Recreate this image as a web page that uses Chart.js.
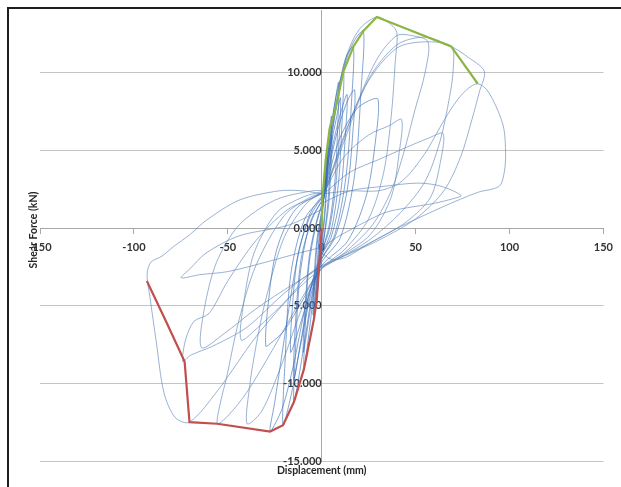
<!DOCTYPE html>
<html>
<head>
<meta charset="utf-8">
<script src="https://cdn.jsdelivr.net/npm/chart.js@4.4.1/dist/chart.umd.min.js"></script>
<style>
  html, body { margin: 0; padding: 0; background: #fff; }
  #wrap { position: relative; width: 621px; height: 487px; overflow: hidden; }
  #frame { position: absolute; left: 7px; top: 7px; width: 620px; height: 490px;
           border-left: 2px solid #1e1e1e; border-top: 2px solid #1e1e1e; }
  canvas { position: absolute; left: 0; top: 0; }
</style>
</head>
<body>
<div id="wrap">
  <canvas id="hyst" width="621" height="487"></canvas>
  <div id="frame"></div>
</div>
<script>
'use strict';

// axis ticks
const xTicks = [-150, -100, -50, 0, 50, 100, 150];
const yTicks = [-15, -10, -5, 0, 5, 10];

// envelopes [displacement mm, shear kN]
const envPos = [[0, 0], [0.3, 1.8], [2.1, 4.4], [4.2, 6.4], [7.2, 7.6], [11.6, 10.1], [16.9, 11.7],
  [22.2, 12.7], [29.3, 13.6], [68.9, 11.7], [83.1, 9.3]];
const envNeg = [[0, 0], [-2.6, -4.6], [-4.2, -5.9], [-9.5, -9.1], [-14.8, -11.2], [-20.6, -12.7],
  [-27.5, -13.1], [-55.6, -12.6], [-70.4, -12.5], [-73.0, -8.6], [-83.3, -5.9], [-93.1, -3.4]];

// hysteresis cycles
const cyc01 = [[0, 0], [1.2, 2.4], [3.0, 4.5], [2.6, 3.0], [1.4, 0.8], [0, -0.8], [-1.4, -2.6], [-2.6, -4.6],
  [-2.2, -3.0], [-1.0, -0.4], [0.4, 1.2]];
const cyc02 = [[0.4, 1.2], [2.0, 3.6], [3.4, 5.2], [3.0, 3.4], [1.8, 1.0], [0.2, -1.0], [-2.0, -3.5], [-3.2, -5.0],
  [-2.8, -3.2], [-1.4, -0.6], [0.6, 1.4]];
const cyc03 = [[0.6, 1.4], [2.6, 4.6], [4.4, 6.6], [5.2, 7.2], [4.8, 5.0], [3.4, 1.8], [1.2, -0.6], [-1.5, -2.6],
  [-3.4, -4.8], [-4.2, -5.9], [-3.8, -3.8], [-2.4, -1.0], [0.8, 1.6]];
const cyc04 = [[0.8, 1.6], [3.4, 4.4], [5.4, 6.0], [5.0, 4.0], [3.6, 1.4], [1.0, -0.8], [-2.4, -3.2], [-4.6, -5.6],
  [-4.2, -3.6], [-2.6, -0.8], [0.9, 1.7]];
const cyc05 = [[0.9, 1.7], [3.4, 4.8], [6.0, 7.2], [9.0, 9.4], [8.6, 6.8], [7.0, 3.0], [4.0, 0.2], [0.5, -1.4],
  [-3.5, -3.6], [-6.6, -6.6], [-9.5, -9.1], [-8.8, -6.4], [-6.8, -2.4], [-3.0, 0.2], [1.0, 1.8]];
const cyc06 = [[1.0, 1.8], [4.5, 5.0], [8.0, 7.2], [10.0, 8.4], [9.4, 6.0], [7.2, 2.4], [3.6, -0.3], [-1.5, -2.0],
  [-6.0, -5.2], [-9.8, -8.0], [-9.0, -5.4], [-6.6, -1.8], [-2.4, 0.6], [1.1, 1.9]];
const cyc07 = [[1.1, 1.9], [4.0, 5.6], [7.5, 8.4], [11.6, 10.1], [11.0, 7.4], [9.0, 3.0], [5.0, -0.2], [0, -1.8],
  [-5.0, -4.2], [-9.5, -7.6], [-14.8, -11.2], [-14.0, -8.0], [-11.5, -3.0], [-6.0, 0.4], [1.2, 2.0]];
const cyc08 = [[1.2, 2.0], [6.0, 5.4], [10.5, 7.6], [13.5, 8.6], [12.6, 6.0], [10.0, 2.2], [5.0, -0.6], [-2.0, -2.2],
  [-8.0, -5.2], [-13.0, -8.6], [-15.0, -9.8], [-14.2, -6.6], [-11.0, -2.0], [-5.0, 0.6], [1.3, 2.0]];
const cyc09 = [[1.3, 2.0], [5.0, 6.0], [10.0, 9.6], [13.2, 11.1], [16.9, 11.7], [16.0, 8.4], [13.0, 3.4], [7.0, -0.4],
  [0, -2.0], [-6.0, -4.4], [-12.0, -8.0], [-16.0, -10.6], [-20.6, -12.7], [-19.6, -8.8], [-16.5, -3.0],
  [-9.0, 0.6], [1.4, 2.1]];
const cyc10 = [[1.4, 2.1], [7.0, 5.6], [13.0, 8.0], [17.5, 8.9], [16.6, 6.2], [13.5, 2.4], [7.0, -0.6], [-2.0, -2.4],
  [-9.0, -5.2], [-14.5, -7.4], [-16.6, -8.0], [-15.8, -5.4], [-12.5, -1.6], [-6.0, 0.8], [1.5, 2.2]];
const cyc11 = [[1.5, 2.2], [6.0, 6.6], [12.0, 10.4], [17.0, 12.0], [22.2, 12.7], [21.0, 9.0], [17.5, 3.4],
  [10.0, -0.6], [0, -2.2], [-8.0, -4.8], [-15.0, -8.8], [-21.0, -11.6], [-27.5, -13.1], [-25.0, -11.2],
  [-21.5, -8.4], [-18.0, -5.6], [-13.0, -2.0], [-6.0, 1.0], [1.6, 2.3]];
const cyc12 = [[1.6, 2.3], [9.0, 5.6], [18.0, 7.6], [25.0, 8.2], [30.0, 8.3], [28.8, 5.8], [24.0, 2.2], [14.0, -0.8],
  [0, -2.4], [-10.0, -4.6], [-20.0, -6.6], [-27.0, -7.4], [-29.8, -7.6], [-28.6, -5.0], [-24.0, -1.4],
  [-14.0, 1.2], [1.7, 2.4]];
const cyc13 = [[1.7, 2.4], [7.0, 7.2], [13.0, 11.0], [20.0, 12.8], [29.3, 13.6], [36.0, 13.2], [40.0, 12.6],
  [39.2, 10.8], [37.0, 7.2], [33.0, 3.6], [25.0, 0.6], [12.0, -1.4], [0, -2.6], [-10.0, -5.0], [-22.0, -9.0],
  [-32.0, -11.8], [-39.7, -12.6], [-38.6, -10.4], [-35.0, -7.6], [-29.8, -4.6], [-20.0, -0.6], [-8.0, 1.6],
  [1.8, 2.4]];
const cyc14 = [[1.8, 2.4], [12.0, 4.6], [25.0, 6.0], [36.0, 6.6], [42.5, 7.0], [41.4, 5.0], [37.0, 2.0],
  [26.0, -0.4], [10.0, -1.8], [-5.0, -2.8], [-20.0, -4.8], [-34.0, -6.4], [-42.9, -7.2], [-41.5, -4.8],
  [-36.0, -1.6], [-24.0, 1.0], [-10.0, 2.0], [1.9, 2.4]];
const cyc15 = [[1.9, 2.4], [10.0, 5.2], [20.0, 8.4], [30.0, 11.0], [40.0, 12.4], [48.0, 12.4], [56.6, 12.0],
  [55.0, 10.0], [49.6, 7.6], [44.0, 5.0], [37.0, 2.4], [27.0, 0.2], [12.0, -1.6], [0, -2.6], [-12.0, -4.8],
  [-26.0, -7.8], [-40.0, -10.6], [-50.0, -12.1], [-55.6, -12.6], [-53.5, -11.0], [-51.0, -9.8],
  [-44.0, -5.9], [-35.0, -2.4], [-20.0, 0.8], [-6.0, 2.0], [2.0, 2.3]];
const cyc16 = [[2.0, 2.3], [15.0, 3.6], [30.0, 4.4], [45.0, 5.2], [57.0, 5.8], [64.6, 6.1], [63.4, 4.4],
  [58.0, 2.0], [45.0, 0.4], [25.0, -1.0], [5.0, -2.2], [-15.0, -3.6], [-35.0, -5.2], [-52.0, -6.8],
  [-64.0, -7.7], [-62.5, -5.2], [-56.0, -2.2], [-44.0, 0.2], [-25.0, 1.8], [-5.0, 2.4], [2.1, 2.4]];
const cyc17 = [[2.1, 2.4], [12.0, 6.0], [25.0, 9.5], [40.0, 11.6], [55.0, 12.0], [69.0, 11.7], [70.0, 10.2],
  [68.0, 8.4], [63.0, 5.6], [55.0, 3.0], [42.0, 1.0], [25.0, -0.8], [8.0, -2.0], [-5.0, -2.8], [-20.0, -4.2],
  [-40.0, -6.4], [-58.0, -7.6], [-70.0, -8.2], [-74.0, -8.6], [-72.5, -7.2], [-68.0, -6.0], [-60.0, -5.5],
  [-50.0, -3.4], [-35.0, -0.8], [-18.0, 1.2], [0, 2.2], [2.2, 2.5]];
const cyc18 = [[2.2, 2.5], [12.0, 5.6], [25.0, 9.6], [40.0, 11.8], [55.0, 12.3], [69.0, 11.7], [78.0, 11.0],
  [86.6, 10.1], [84.0, 8.8], [80.0, 7.0], [74.0, 4.6], [65.0, 2.4], [50.0, 0.6], [30.0, -0.8], [12.0, -1.8],
  [0, -2.6], [-15.0, -4.2], [-35.0, -7.0], [-55.0, -10.4], [-70.4, -12.5], [-78.0, -12.2], [-84.0, -10.6],
  [-88.0, -7.4], [-91.5, -4.4], [-93.0, -3.0], [-91.0, -2.2], [-85.0, -1.8], [-79.0, -1.2], [-70.0, -0.4],
  [-61.5, 0.5], [-44.0, 1.8], [-22.8, 2.4], [-10.0, 2.4], [0, 2.2]];
const cyc19 = [[0, 2.2], [15.0, 2.4], [30.0, 2.4], [40.0, 2.8], [46.0, 3.4], [52.0, 4.3], [57.0, 5.2],
  [65.4, 7.0], [72.5, 8.3], [78.0, 9.0], [83.0, 9.3], [88.0, 8.9], [93.7, 7.6], [97.0, 6.4], [97.9, 4.8],
  [97.2, 3.6], [94.5, 2.7], [83.0, 2.3], [65.0, 1.4], [42.0, 0.1], [25.0, -1.0], [12.5, -1.9], [5.0, -2.0],
  [0, -1.6]];
const cyc20 = [[0, 1.6], [15.0, 2.4], [33.7, 2.7], [51.3, 2.9], [63.5, 2.7], [74.2, 2.1], [70.0, 1.9],
  [60.0, 1.6], [45.0, 1.3], [33.7, 1.0], [20.0, 0.2], [8.0, -0.6], [0, -1.2], [-12.0, -1.6], [-30.0, -2.2],
  [-50.0, -2.8], [-65.0, -3.0], [-74.8, -3.2], [-70.0, -2.6], [-61.5, -1.6], [-44.0, -0.5], [-17.5, 0.2],
  [0, 1.2]];

const cycles = [cyc01, cyc02, cyc03, cyc04, cyc05, cyc06, cyc07, cyc08, cyc09, cyc10,
  cyc11, cyc12, cyc13, cyc14, cyc15, cyc16, cyc17, cyc18, cyc19, cyc20];

const toPts = arr => arr.map(p => ({ x: p[0], y: p[1] }));
const FONT = 'Lato, "Liberation Sans", sans-serif';

// early cycles read darker, the wide late ones paler
const datasets = cycles.map((c, i) => ({
  data: toPts(c),
  showLine: true,
  borderColor: i < 12 ? 'rgba(58, 110, 184, 0.7)' : 'rgba(104, 140, 190, 0.75)',
  borderWidth: 0.9,
  pointRadius: 0,
  tension: 0.3,
  order: 2
}));
datasets.push({ data: toPts(envPos), showLine: true, borderColor: '#8db543', borderWidth: 2.2,
  pointRadius: 0, tension: 0, order: 0 });
datasets.push({ data: toPts(envNeg), showLine: true, borderColor: '#c0504d', borderWidth: 2.2,
  pointRadius: 0, tension: 0, order: 0 });

const axisTitles = {
  id: 'axisTitles',
  afterDraw(chart) {
    const ctx = chart.ctx;
    ctx.save();
    ctx.fillStyle = '#262626';
    ctx.font = 'bold 10.5px ' + FONT;
    ctx.textAlign = 'center';
    ctx.textBaseline = 'middle';
    ctx.fillText('Displacement (mm)', chart.scales.x.getPixelForValue(0), 471);
    ctx.translate(34, 230);
    ctx.rotate(-Math.PI / 2);
    ctx.fillText('Shear Force (kN)', 0, 0);
    ctx.restore();
  }
};

new Chart(document.getElementById('hyst'), {
  type: 'scatter',
  data: { datasets },
  plugins: [axisTitles],
  options: {
    responsive: false,
    animation: false,
    devicePixelRatio: 1,
    layout: { padding: { left: 40, right: 14, top: 10, bottom: 26 } },
    plugins: { legend: { display: false }, tooltip: { enabled: false } },
    scales: {
      x: {
        type: 'linear',
        min: xTicks[0],
        max: xTicks[xTicks.length - 1],
        position: { y: 0 },
        afterBuildTicks: s => { s.ticks = xTicks.map(v => ({ value: v })); },
        ticks: { font: { family: FONT, size: 11, weight: 'bold' }, color: '#333', padding: 8, maxRotation: 0 },
        grid: { drawOnChartArea: false, tickLength: 5, color: '#a8a8a8' },
        border: { color: '#a8a8a8' }
      },
      y: {
        type: 'linear',
        min: yTicks[0],
        max: 14.05,
        position: { x: 0 },
        afterBuildTicks: s => { s.ticks = yTicks.map(v => ({ value: v })); },
        ticks: { font: { family: FONT, size: 11, weight: 'bold' }, color: '#333', padding: 2,
          callback: v => v.toFixed(3) },
        grid: { color: '#c4c4c4', tickLength: 3 },
        border: { color: '#a8a8a8' }
      }
    }
  }
});
</script>
</body>
</html>
